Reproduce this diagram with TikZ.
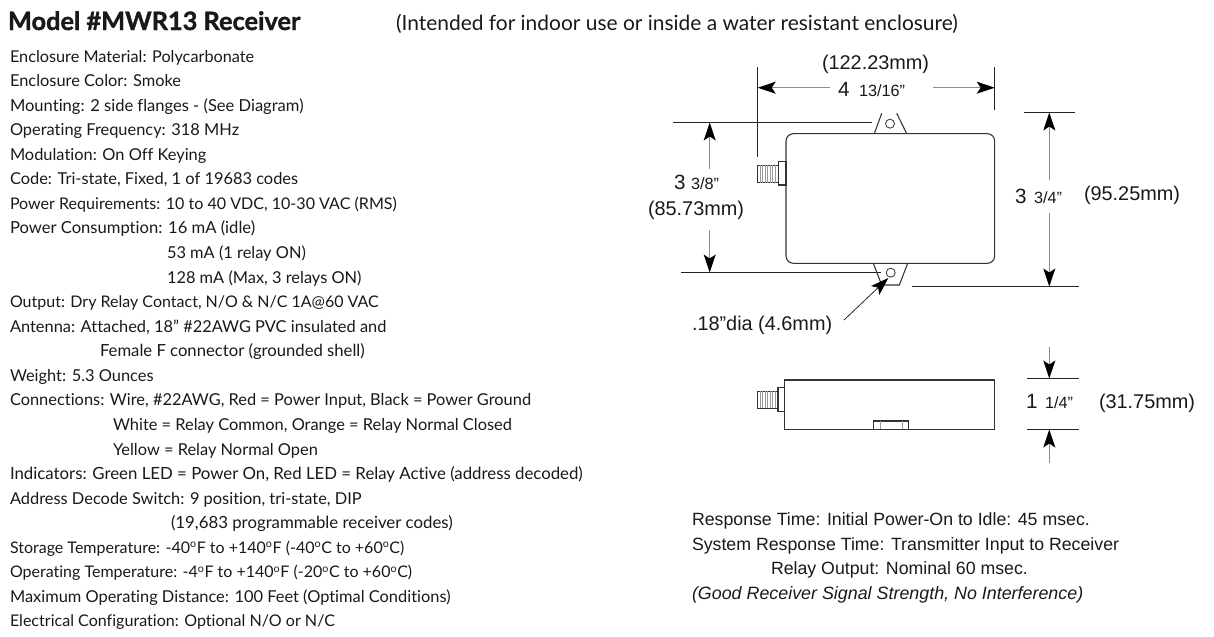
\documentclass[tikz,border=0pt]{standalone}
\usepackage{fontspec}
\setmainfont{Lato}[Ligatures={NoCommon},BoldFeatures={FakeBold=1.3}]
\newfontfamily\arialfont{Liberation Sans}
\usetikzlibrary{arrows.meta}
\tikzset{
  txt/.style={anchor=base west,inner sep=0pt,outer sep=0pt,font=\fontsize{12.3}{14}\selectfont,text=black!90},
  txtsize/.style={font=\fontsize{#1}{14}\selectfont},
  dim/.style={anchor=base west,inner sep=0pt,outer sep=0pt,font=\arialfont\fontsize{14.9}{16}\selectfont,text=black!90},
  whole/.style={dim,font=\arialfont\fontsize{15.5}{16}\selectfont},
  frac/.style={anchor=base west,inner sep=0pt,outer sep=0pt,font=\arialfont\fontsize{12.2}{13}\selectfont,text=black!90},
  note/.style={anchor=base west,inner sep=0pt,outer sep=0pt,font=\arialfont\fontsize{13.3}{15}\selectfont,text=black!90},
  outline/.style={draw=black!80,line width=0.8pt},
  thin part/.style={draw=black!40,line width=0.3pt},
  extline/.style={draw=black!85,line width=0.8pt},
  dimline/.style={draw=black!45,line width=0.7pt,-{Stealth[length=13.5pt,width=9pt,inset=3pt,black]}},
  leader/.style={draw=black!85,line width=0.6pt,-{Stealth[length=13.5pt,width=9pt,inset=3pt,black]}}
}
\begin{document}
\begin{tikzpicture}[x=0.75pt,y=-0.75pt]
\useasboundingbox (0,0) rectangle (1214,636);
% header
\node[txt,font=\bfseries\fontsize{19}{20}\selectfont] (title) at (8,30) {Model \#MWR13 Receiver};
\node[txt,font=\fontsize{15.7}{18}\selectfont] (subtitle) at (396,30) {(Intended for indoor use or inside a water resistant enclosure)};
% specification list
\node[txt,txtsize=12.2] (s0) at (10,62) {Enclosure Material: Polycarbonate};
\node[txt] (s1) at (10,86.6) {Enclosure Color: Smoke};
\node[txt,txtsize=12.4] (s2) at (10,111.1) {Mounting: 2 side flanges - (See Diagram)};
\node[txt] (s3) at (10,135.7) {Operating Frequency: 318 MHz};
\node[txt] (s4) at (10,160.2) {Modulation: On Off Keying};
\node[txt] (s5) at (10,184.8) {Code: Tri-state, Fixed, 1 of 19683 codes};
\node[txt,txtsize=12.05] (s6) at (10,209.4) {Power Requirements: 10 to 40 VDC, 10-30 VAC (RMS)};
\node[txt,txtsize=12.45] (s7) at (10,233.9) {Power Consumption: 16 mA (idle)};
\node[txt] (s8) at (167,258.5) {53 mA (1 relay ON)};
\node[txt] (s9) at (167,283) {128 mA (Max, 3 relays ON)};
\node[txt,txtsize=12] (s10) at (10,307.6) {Output: Dry Relay Contact, N/O \& N/C 1A@60 VAC};
\node[txt] (s11) at (10,332.2) {Antenna: Attached, 18” \#22AWG PVC insulated and};
\node[txt,txtsize=12.5] (s12) at (100,356.7) {Female F connector (grounded shell)};
\node[txt] (s13) at (10,381.3) {Weight: 5.3 Ounces};
\node[txt] (s14) at (10,405.8) {Connections: Wire, \#22AWG, Red = Power Input, Black = Power Ground};
\node[txt] (s15) at (113,430.4) {White = Relay Common, Orange = Relay Normal Closed};
\node[txt] (s16) at (113,455) {Yellow = Relay Normal Open};
\node[txt,txtsize=12.6] (s17) at (10,479.5) {Indicators: Green LED = Power On, Red LED = Relay Active (address decoded)};
\node[txt] (s18) at (10,504.1) {Address Decode Switch: 9 position, tri-state, DIP};
\node[txt,txtsize=12.6] (s19) at (171,528.6) {(19,683 programmable receiver codes)};
\node[txt,txtsize=12] (s20) at (10,553.2) {Storage Temperature: -40\textsuperscript{o}F to +140\textsuperscript{o}F (-40\textsuperscript{o}C to +60\textsuperscript{o}C)};
\node[txt,txtsize=12] (s21) at (10,577.8) {Operating Temperature: -4\textsuperscript{o}F to +140\textsuperscript{o}F (-20\textsuperscript{o}C to +60\textsuperscript{o}C)};
\node[txt] (s22) at (10,602.3) {Maximum Operating Distance: 100 Feet (Optimal Conditions)};
\node[txt,txtsize=12.05] (s23) at (10,626.9) {Electrical Configuration: Optional N/O or N/C};
% response notes
\node[note] (r0) at (692,525) {Response Time: Initial Power-On to Idle: 45 msec.};
\node[note] (r1) at (692,550) {System Response Time: Transmitter Input to Receiver};
\node[note] (r2) at (771,574) {Relay Output: Nominal 60 msec.};
\node[note,font=\arialfont\itshape\fontsize{13.4}{15}\selectfont] (r3) at (692,599) {(Good Receiver Signal Strength, No Interference)};
% top view
\draw[outline,rounded corners=5.5pt] (786,133.7) rectangle (994.7,263.3);
\draw[outline] (874.3,133.7) -- (881.7,113.3);
\draw[outline] (896.7,113.3) -- (906.7,133.7);
\draw[outline] (873.3,263.3) -- (881.7,285) -- (899.3,285) -- (907.7,263.3);
\draw[outline,line width=0.6pt] (890,123.7) circle (4.5);
\draw[outline,line width=0.6pt] (890.7,272.7) circle (4.5);
\draw[outline] (778.3,161.7) rectangle (786,185);
\draw[outline,line width=0.6pt] (757.5,165) rectangle (778.3,182.7);
\foreach \tx in {760,762.5,765,767.5,770,772.5,775}
  \draw[thin part] (\tx,165) -- (\tx,182.7);
% side view
\draw[outline] (784.3,380) rectangle (994.3,429.3);
\draw[outline] (778,387.7) rectangle (784.3,411.7);
\draw[outline,line width=0.6pt] (757.7,391) rectangle (778,408);
\foreach \tx in {760,762.5,765,767.5,770,772.5,775}
  \draw[thin part] (\tx,391) -- (\tx,408);
\draw[outline] (873.7,421) rectangle (908.3,429.3);
\draw[thin part] (880,421) -- (880,429.3) (901.7,421) -- (901.7,429.3);
% extension lines
\draw[extline] (757.7,67) -- (757.7,157);
\draw[extline] (994.7,67) -- (994.7,110);
\draw[extline] (673,122.5) -- (872,122.5);
\draw[extline] (681,272.5) -- (881,272.5);
\draw[extline] (1024,112.5) -- (1075,112.5);
\draw[extline] (911.7,286.5) -- (1079,286.5);
\draw[extline] (1027.3,378.5) -- (1079.3,378.5);
\draw[extline] (1027.3,429.5) -- (1079.3,429.5);
% dimensions
\draw[dimline] (830,87.7) -- (757.7,87.7);
\draw[dimline] (933,87.7) -- (994.7,87.7);
\draw[dimline] (709.7,169) -- (709.7,122.5);
\draw[dimline] (709.7,230) -- (709.7,272.5);
\draw[dimline] (1049.3,180) -- (1049.3,112.5);
\draw[dimline] (1049.3,213) -- (1049.3,286.5);
\draw[dimline] (1049.3,346.7) -- (1049.3,378.5);
\draw[dimline] (1049.3,463) -- (1049.3,429.5);
\draw[leader] (844,320) -- (888.3,278);
% dimension labels
\node[dim] (w1) at (822,69) {(122.23mm)};
\node[whole] (w2) at (838,96) {4};
\node[frac] (w3) at (859,96) {13/16”};
\node[whole] (h1) at (674,189) {3};
\node[frac] (h2) at (691,189) {3/8”};
\node[dim] (h3) at (648,215) {(85.73mm)};
\node[dim] (d1) at (692,330) {.18”dia (4.6mm)};
\node[whole] (t1) at (1015,203) {3};
\node[frac] (t2) at (1034,203) {3/4”};
\node[dim] (t3) at (1084,200) {(95.25mm)};
\node[whole] (o1) at (1026,408) {1};
\node[frac] (o2) at (1045,408) {1/4”};
\node[dim] (o3) at (1099,408) {(31.75mm)};
\end{tikzpicture}
\end{document}
